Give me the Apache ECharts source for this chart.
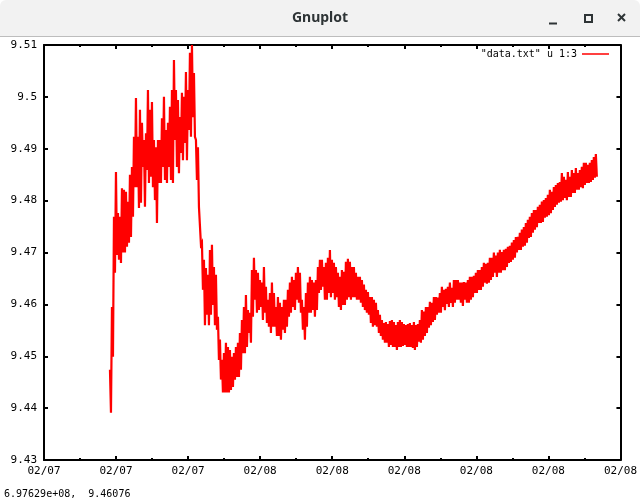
<!DOCTYPE html>
<html>
<head>
<meta charset="utf-8">
<script src="https://cdn.jsdelivr.net/npm/echarts@6/dist/echarts.min.js"></script>
<style>
html,body{margin:0;padding:0;background:#fff;}
#chart{width:640px;height:500px;}
</style>
</head>
<body>
<div id="chart"></div>
<script>
// Sampling grid of the recording (hours since 02/07 00:00)
const sampleStartHour = 15.662;
const sampleStepHour = 0.111;

// Upper envelope of the noisy trace
const upperValues = [9.4474,9.4595,9.4769,9.4855,9.4776,9.4769,9.4824,9.4821,9.4817,9.4798,
9.4850,9.4865,9.4923,9.4998,9.4923,9.4975,9.4950,9.4917,9.4930,9.5013,
9.4975,9.4990,9.4917,9.4903,9.4917,9.4917,9.4959,9.5000,9.4936,9.4950,
9.4981,9.5013,9.5071,9.5013,9.4994,9.4961,9.5008,9.5000,9.5048,9.5013,
9.5085,9.5100,9.5046,9.4917,9.4903,9.4788,9.4719,9.4686,9.4670,9.4657,
9.4705,9.4715,9.4672,9.4657,9.4576,9.4532,9.4493,9.4506,9.4526,9.4518,
9.4512,9.4499,9.4506,9.4518,9.4526,9.4545,9.4570,9.4595,9.4618,9.4589,
9.4584,9.4666,9.4690,9.4666,9.4661,9.4647,9.4642,9.4672,9.4634,9.4609,
9.4622,9.4642,9.4622,9.4595,9.4614,9.4603,9.4595,9.4609,9.4609,9.4628,
9.4642,9.4653,9.4647,9.4661,9.4672,9.4661,9.4609,9.4595,9.4622,9.4642,
9.4653,9.4647,9.4642,9.4647,9.4672,9.4686,9.4686,9.4672,9.4680,9.4690,
9.4705,9.4686,9.4680,9.4672,9.4661,9.4653,9.4666,9.4663,9.4682,9.4688,
9.4682,9.4672,9.4672,9.4661,9.4653,9.4653,9.4647,9.4638,9.4628,9.4624,
9.4614,9.4614,9.4609,9.4603,9.4589,9.4580,9.4570,9.4564,9.4566,9.4562,
9.4568,9.4570,9.4566,9.4560,9.4566,9.4570,9.4566,9.4562,9.4560,9.4562,
9.4564,9.4560,9.4566,9.4560,9.4562,9.4570,9.4589,9.4586,9.4595,9.4595,
9.4605,9.4603,9.4614,9.4614,9.4613,9.4622,9.4634,9.4628,9.4630,9.4634,
9.4642,9.4632,9.4647,9.4647,9.4647,9.4642,9.4642,9.4643,9.4642,9.4647,
9.4653,9.4653,9.4655,9.4661,9.4666,9.4666,9.4672,9.4680,9.4678,9.4680,
9.4690,9.4690,9.4700,9.4694,9.4700,9.4705,9.4701,9.4705,9.4707,9.4711,
9.4713,9.4719,9.4724,9.4730,9.4730,9.4738,9.4744,9.4749,9.4757,9.4763,
9.4769,9.4776,9.4782,9.4782,9.4788,9.4792,9.4798,9.4801,9.4805,9.4811,
9.4821,9.4817,9.4826,9.4830,9.4834,9.4836,9.4853,9.4846,9.4840,9.4855,
9.4846,9.4859,9.4853,9.4863,9.4853,9.4859,9.4865,9.4873,9.4873,9.4869,
9.4873,9.4878,9.4884,9.4890];

// Lower envelope of the noisy trace
const lowerValues = [9.4391,9.4499,9.4661,9.4695,9.4686,9.4680,9.4700,9.4700,9.4711,9.4719,
9.4730,9.4769,9.4826,9.4826,9.4786,9.4796,9.4865,9.4788,9.4859,9.4834,
9.4846,9.4826,9.4801,9.4757,9.4834,9.4834,9.4865,9.4840,9.4834,9.4865,
9.4840,9.4834,9.4917,9.4865,9.4853,9.4892,9.4878,9.4911,9.4878,9.4936,
9.4923,9.4961,9.4923,9.4840,9.4788,9.4715,9.4628,9.4560,9.4580,9.4560,
9.4580,9.4599,9.4560,9.4551,9.4493,9.4455,9.4430,9.4430,9.4430,9.4430,
9.4435,9.4441,9.4455,9.4460,9.4460,9.4474,9.4506,9.4506,9.4518,9.4545,
9.4526,9.4576,9.4609,9.4584,9.4589,9.4595,9.4570,9.4584,9.4564,9.4557,
9.4545,9.4557,9.4557,9.4539,9.4539,9.4532,9.4551,9.4545,9.4557,9.4576,
9.4584,9.4595,9.4589,9.4609,9.4603,9.4584,9.4551,9.4532,9.4557,9.4584,
9.4584,9.4589,9.4576,9.4589,9.4622,9.4628,9.4634,9.4609,9.4609,9.4622,
9.4614,9.4622,9.4609,9.4614,9.4595,9.4589,9.4599,9.4599,9.4609,9.4614,
9.4609,9.4614,9.4614,9.4609,9.4609,9.4603,9.4595,9.4589,9.4584,9.4580,
9.4564,9.4557,9.4560,9.4557,9.4545,9.4539,9.4532,9.4526,9.4526,9.4518,
9.4522,9.4518,9.4518,9.4512,9.4518,9.4518,9.4520,9.4522,9.4518,9.4518,
9.4518,9.4516,9.4512,9.4518,9.4528,9.4526,9.4532,9.4539,9.4545,9.4555,
9.4560,9.4566,9.4570,9.4580,9.4584,9.4584,9.4595,9.4589,9.4601,9.4595,
9.4603,9.4595,9.4603,9.4609,9.4609,9.4603,9.4597,9.4609,9.4603,9.4603,
9.4609,9.4614,9.4622,9.4622,9.4628,9.4628,9.4634,9.4642,9.4640,9.4642,
9.4647,9.4653,9.4661,9.4653,9.4661,9.4661,9.4666,9.4666,9.4672,9.4680,
9.4682,9.4686,9.4690,9.4700,9.4705,9.4705,9.4711,9.4713,9.4719,9.4728,
9.4730,9.4738,9.4744,9.4749,9.4757,9.4757,9.4759,9.4767,9.4769,9.4772,
9.4776,9.4782,9.4788,9.4792,9.4796,9.4798,9.4801,9.4805,9.4801,9.4807,
9.4807,9.4815,9.4815,9.4821,9.4821,9.4826,9.4824,9.4830,9.4834,9.4834,
9.4836,9.4840,9.4844,9.4846];

const seriesName = '"data.txt" u 1:3';
const windowTitle = 'Gnuplot';
const statusText = '6.97629e+08,  9.46076';
const xMin = 12, xMax = 44, xStep = 4;
const yMin = 9.43, yMax = 9.51, yStep = 0.01;

const points = [];
for (let i = 0; i < upperValues.length; i++) {
  const t = sampleStartHour + i * sampleStepHour;
  points.push([t, upperValues[i]]);
  points.push([t + sampleStepHour / 2, lowerValues[i]]);
}

const monoFont = 'DejaVu Sans Mono';
const dayLabel = v => (v < 24 ? '02/07' : '02/08');

const axisCommon = {
  axisLine: { show: true, lineStyle: { color: '#000', width: 2 } },
  splitLine: { show: false },
  axisTick: { show: true, inside: true, length: 4, lineStyle: { color: '#000', width: 2 } }
};
const minorTickStyle = { show: true, splitNumber: 2, length: 2, lineStyle: { color: '#000', width: 2 } };

const chart = echarts.init(document.getElementById('chart'), null, { renderer: 'canvas' });
chart.setOption({
  animation: false,
  backgroundColor: '#fff',
  grid: { left: 44, right: 19, top: 45, bottom: 40, containLabel: false },
  legend: {
    show: true,
    data: [{ name: seriesName, icon: 'rect' }],
    right: 31, top: 49, padding: 0,
    align: 'right',
    itemWidth: 27, itemHeight: 1.5,
    textStyle: { fontFamily: monoFont, fontSize: 10, color: '#000' },
    selectedMode: false
  },
  xAxis: [
    Object.assign({}, axisCommon, {
      type: 'value', min: xMin, max: xMax, interval: xStep, position: 'bottom',
      minorTick: minorTickStyle,
      axisLabel: { show: true, formatter: dayLabel, fontFamily: monoFont, fontSize: 11, color: '#000', margin: 6, hideOverlap: false, showMinLabel: true, showMaxLabel: true }
    }),
    Object.assign({}, axisCommon, {
      type: 'value', min: xMin, max: xMax, interval: xStep, position: 'top',
      minorTick: minorTickStyle,
      axisLabel: { show: false }
    })
  ],
  yAxis: [
    Object.assign({}, axisCommon, {
      type: 'value', min: yMin, max: yMax, interval: yStep, position: 'left',
      axisLabel: { show: true, fontFamily: monoFont, fontSize: 11, color: '#000', margin: 7, showMinLabel: true, showMaxLabel: true }
    }),
    Object.assign({}, axisCommon, {
      type: 'value', min: yMin, max: yMax, interval: yStep, position: 'right',
      axisLabel: { show: false }
    })
  ],
  series: [{
    name: seriesName,
    type: 'line',
    xAxisIndex: 0, yAxisIndex: 0,
    data: points,
    showSymbol: false,
    symbol: 'none',
    sampling: false,
    silent: true,
    itemStyle: { color: '#ff0000' },
    lineStyle: { color: '#ff0000', width: 2.2, join: 'miter' }
  }],
  graphic: [
    { type: 'rect', shape: { x: 0, y: 0, width: 640, height: 36, r: [6, 6, 0, 0] }, style: { fill: '#f2f2f2' }, z: 100 },
    { type: 'line', shape: { x1: 0, y1: 36.5, x2: 640, y2: 36.5 }, style: { stroke: '#bdbdbd', lineWidth: 1 }, z: 100 },
    { type: 'text', x: 320, y: 18, style: { text: windowTitle, fontFamily: 'Noto Sans', fontSize: 14, fontWeight: 'bold', fill: '#2e3436', align: 'center', verticalAlign: 'middle' }, z: 101 },
    { type: 'line', shape: { x1: 549, y1: 23.5, x2: 557, y2: 23.5 }, style: { stroke: '#2e3436', lineWidth: 2 }, z: 101 },
    { type: 'rect', shape: { x: 585, y: 15, width: 7, height: 7 }, style: { fill: 'none', stroke: '#2e3436', lineWidth: 2 }, z: 101 },
    { type: 'line', shape: { x1: 618, y1: 14, x2: 625, y2: 21 }, style: { stroke: '#2e3436', lineWidth: 2 }, z: 101 },
    { type: 'line', shape: { x1: 625, y1: 14, x2: 618, y2: 21 }, style: { stroke: '#2e3436', lineWidth: 2 }, z: 101 },
    { type: 'text', x: 4, y: 494, style: { text: statusText, fontFamily: monoFont, fontSize: 10, fill: '#000', align: 'left', verticalAlign: 'middle' }, z: 101 }
  ]
});
</script>
</body>
</html>
